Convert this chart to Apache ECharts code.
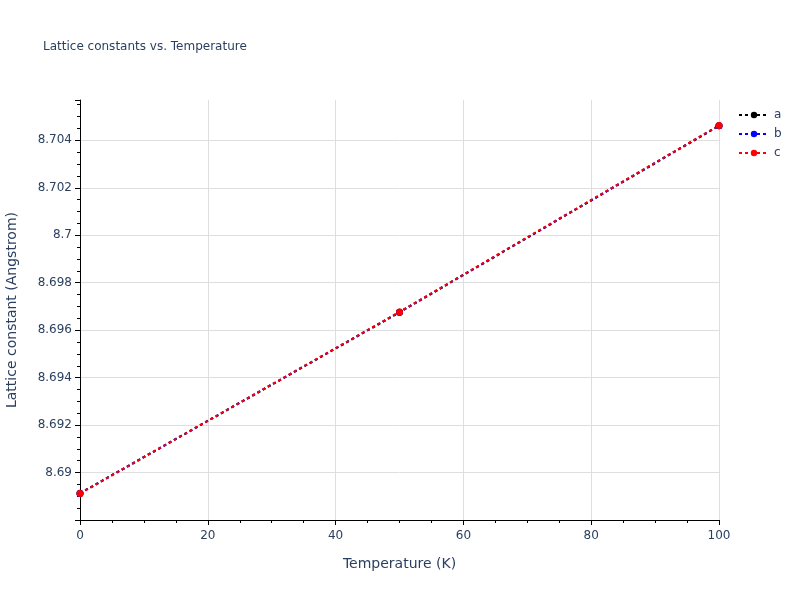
<!DOCTYPE html>
<html>
<head>
<meta charset="utf-8">
<script src="https://cdn.jsdelivr.net/npm/echarts@6/dist/echarts.min.js"></script>
<style>
  html, body { margin: 0; padding: 0; background: #fff; }
  #chart { width: 800px; height: 600px; }
</style>
</head>
<body>
<div id="chart"></div>
<script>
// temperatures (K) and lattice constants (Angstrom)
var temps = [0, 50, 100];
var latA = [8.68912, 8.69675, 8.70461];
var latB = [8.68913, 8.69676, 8.70462];
var latC = [8.68912, 8.69677, 8.70463];

var txt = '#2a3f5f';
var font = 'DejaVu Sans, Verdana, sans-serif';

function pairs(ys) {
  return temps.map(function (t, i) { return [t, ys[i]]; });
}

function lineSeries(name, color, ys) {
  return {
    name: name,
    type: 'line',
    data: pairs(ys),
    symbol: 'circle',
    symbolSize: 7,
    showSymbol: true,
    itemStyle: { color: color },
    lineStyle: { color: color, width: 2, type: [3, 3] },
    emphasis: { disabled: true },
    animation: false
  };
}

var chart = echarts.init(document.getElementById('chart'));
chart.setOption({
  backgroundColor: '#fff',
  textStyle: { fontFamily: font },
  title: {
    text: 'Lattice constants vs. Temperature',
    left: 38,
    top: 36,
    textStyle: { color: txt, fontSize: 12, fontWeight: 'normal', fontFamily: font }
  },
  legend: {
    orient: 'vertical',
    left: 733,
    top: 104,
    itemWidth: 30,
    itemHeight: 8,
    itemGap: 7,
    textStyle: { color: txt, fontSize: 12, fontFamily: font },
    data: ['a', 'b', 'c']
  },
  grid: { left: 80, right: 81, top: 100, bottom: 80, containLabel: false, outerBoundsMode: 'none' },
  xAxis: {
    type: 'value',
    min: 0,
    max: 100,
    interval: 20,
    name: 'Temperature (K)',
    nameLocation: 'middle',
    nameGap: 37,
    nameTextStyle: { color: txt, fontSize: 14, fontFamily: font },
    axisLine: { show: true, lineStyle: { color: '#000', width: 1 } },
    axisTick: { show: true, length: 5, lineStyle: { color: '#000' } },
    minorTick: { show: true, splitNumber: 4, length: 3, lineStyle: { color: '#000' } },
    axisLabel: { color: txt, fontSize: 12, margin: 10, fontFamily: font },
    splitLine: { show: true, lineStyle: { color: '#dedede' } }
  },
  yAxis: {
    type: 'value',
    min: 8.688,
    max: 8.7057,
    interval: 0.002,
    name: 'Lattice constant (Angstrom)',
    nameLocation: 'middle',
    nameGap: 61,
    nameTextStyle: { color: txt, fontSize: 14, fontFamily: font },
    axisLine: { show: true, lineStyle: { color: '#000', width: 1 } },
    axisTick: { show: true, length: 5, lineStyle: { color: '#000' } },
    minorTick: { show: true, splitNumber: 4, length: 3, lineStyle: { color: '#000' } },
    axisLabel: {
      color: txt,
      fontSize: 12,
      margin: 8,
      fontFamily: font,
      showMinLabel: false,
      showMaxLabel: false,
      formatter: function (v) { return String(+v.toFixed(3)); }
    },
    splitLine: { show: true, showMinLine: false, showMaxLine: false, lineStyle: { color: '#dedede' } }
  },
  series: [
    lineSeries('a', '#000000', latA),
    lineSeries('b', '#0000ff', latB),
    lineSeries('c', '#ff0000', latC)
  ]
});
</script>
</body>
</html>
